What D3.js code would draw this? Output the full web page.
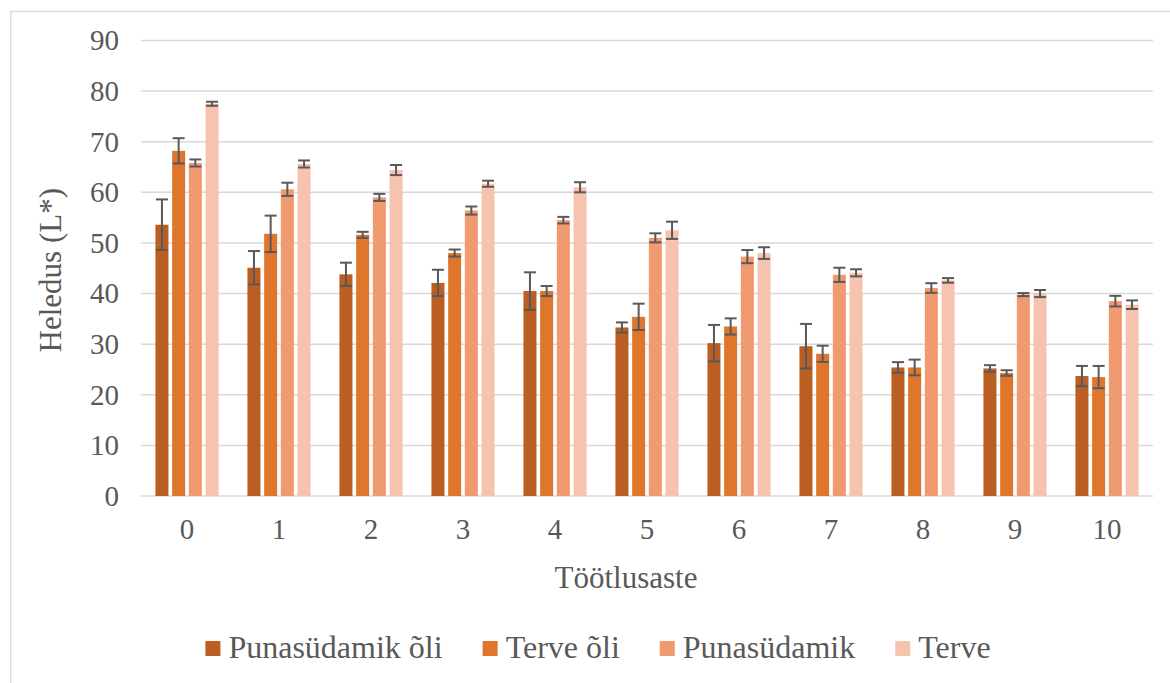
<!DOCTYPE html>
<html>
<head>
<meta charset="utf-8">
<script src="https://cdn.jsdelivr.net/npm/d3@7"></script>
<style>
  body { margin: 0; background: #fff; }
</style>
</head>
<body>
<script>
const categories = ["0", "1", "2", "3", "4", "5", "6", "7", "8", "9", "10"];
const seriesNames = ["Punasüdamik õli", "Terve õli", "Punasüdamik", "Terve"];
const colors = ["#BB5E22", "#DF762C", "#F09A6F", "#F6C3AF"];
const yTicks = [0, 10, 20, 30, 40, 50, 60, 70, 80, 90];

// means
const punaOli = [53.6, 45.1, 43.8, 42.1, 40.5, 33.3, 30.2, 29.6, 25.4, 25.2, 23.7];
const terveOli = [68.2, 51.8, 51.6, 48.0, 40.5, 35.4, 33.5, 28.1, 25.4, 24.3, 23.5];
const puna = [65.8, 60.6, 59.0, 56.4, 54.5, 51.0, 47.3, 43.7, 41.1, 39.8, 38.5];
const terve = [77.5, 65.6, 64.4, 61.7, 61.0, 52.5, 48.0, 44.1, 42.6, 40.0, 37.8];

// error (± half range)
const punaOliErr = [5.0, 3.3, 2.3, 2.6, 3.7, 1.0, 3.6, 4.4, 1.05, 0.65, 2.0];
const terveOliErr = [2.5, 3.6, 0.6, 0.7, 1.0, 2.6, 1.6, 1.6, 1.55, 0.55, 2.2];
const punaErr = [0.7, 1.3, 0.7, 0.8, 0.65, 0.9, 1.3, 1.4, 0.95, 0.3, 1.05];
const terveErr = [0.4, 0.7, 1.0, 0.6, 1.0, 1.7, 1.15, 0.7, 0.45, 0.7, 0.85];

const means = [punaOli, terveOli, puna, terve];
const errs = [punaOliErr, terveOliErr, punaErr, terveErr];

const W = 1170, H = 683;
const plot = { left: 141, right: 1153, top: 40.5, bottom: 496 };
const serif = "'Liberation Serif', 'Times New Roman', Tinos, 'DejaVu Serif', serif";

const svg = d3.select(document.body).append("svg")
  .attr("width", W)
  .attr("height", H)
  .attr("font-family", serif);

// chart frame
svg.append("rect")
  .attr("x", 10.7).attr("y", 11.5)
  .attr("width", 1170).attr("height", 700)
  .attr("fill", "none")
  .attr("stroke", "#d9d9d9")
  .attr("stroke-width", 1.3);

const x0 = d3.scaleBand()
  .domain(categories)
  .range([plot.left, plot.right]);

const groupW = 66.8;
const x1 = d3.scaleBand()
  .domain(d3.range(4))
  .range([-groupW / 2, groupW / 2])
  .paddingInner(0.22)
  .paddingOuter(0.11);

const y = d3.scaleLinear()
  .domain([0, 90])
  .range([plot.bottom, plot.top]);

// gridlines
svg.append("g")
  .selectAll("line")
  .data(yTicks)
  .join("line")
  .attr("x1", plot.left).attr("x2", plot.right)
  .attr("y1", d => y(d)).attr("y2", d => y(d))
  .attr("stroke", "#d9d9d9")
  .attr("stroke-width", 1.5);

// y tick labels
svg.append("g")
  .selectAll("text")
  .data(yTicks)
  .join("text")
  .attr("x", 119)
  .attr("y", d => y(d))
  .attr("dy", "0.34em")
  .attr("text-anchor", "end")
  .attr("fill", "#595959")
  .style("font-size", "29px")
  .text(d => d);

// x tick labels
svg.append("g")
  .selectAll("text")
  .data(categories)
  .join("text")
  .attr("x", d => x0(d) + x0.bandwidth() / 2)
  .attr("y", 539)
  .attr("text-anchor", "middle")
  .attr("fill", "#595959")
  .style("font-size", "29px")
  .text(d => d);

// bars
const rows = [];
means.forEach((s, si) => {
  s.forEach((v, ci) => rows.push({ si, ci, v, e: errs[si][ci] }));
});

const cx = d => x0(categories[d.ci]) + x0.bandwidth() / 2 + x1(d.si);

svg.append("g")
  .selectAll("rect")
  .data(rows)
  .join("rect")
  .attr("x", cx)
  .attr("width", x1.bandwidth())
  .attr("y", d => y(d.v))
  .attr("height", d => y(0) - y(d.v))
  .attr("fill", d => colors[d.si]);

// error bars
const eb = svg.append("g")
  .attr("stroke", "#595959")
  .attr("stroke-width", 2)
  .selectAll("g")
  .data(rows)
  .join("g")
  .attr("transform", d => `translate(${cx(d) + x1.bandwidth() / 2},0)`);

eb.append("line")
  .attr("y1", d => y(d.v + d.e)).attr("y2", d => y(d.v - d.e));
eb.append("line")
  .attr("x1", -6).attr("x2", 6)
  .attr("y1", d => y(d.v + d.e)).attr("y2", d => y(d.v + d.e));
eb.append("line")
  .attr("x1", -6).attr("x2", 6)
  .attr("y1", d => y(d.v - d.e)).attr("y2", d => y(d.v - d.e));

// axis titles
svg.append("text")
  .attr("transform", `translate(61,${(plot.top + plot.bottom) / 2 + 2}) rotate(-90)`)
  .attr("text-anchor", "middle")
  .attr("fill", "#595959")
  .style("font-size", "31px")
  .text("Heledus (L*)");

svg.append("text")
  .attr("x", (plot.left + plot.right) / 2 - 21)
  .attr("y", 588)
  .attr("text-anchor", "middle")
  .attr("fill", "#595959")
  .style("font-size", "31px")
  .text("Töötlusaste");

// legend
const legend = svg.append("g");
const items = legend.selectAll("g")
  .data(seriesNames)
  .join("g");
items.append("rect")
  .attr("width", 15).attr("height", 15)
  .attr("y", 641)
  .attr("fill", (d, i) => colors[i]);
items.append("text")
  .attr("x", 23)
  .attr("y", 658)
  .attr("fill", "#595959")
  .style("font-size", "32px")
  .text(d => d);

let pos = 0;
const offsets = [];
items.each(function () {
  offsets.push(pos);
  const tw = d3.select(this).select("text").node().getComputedTextLength();
  pos += 23 + tw + 40;
});
const total = pos - 40;
const start = 598 - total / 2;
items.attr("transform", (d, i) => `translate(${start + offsets[i]},0)`);
</script>
</body>
</html>
